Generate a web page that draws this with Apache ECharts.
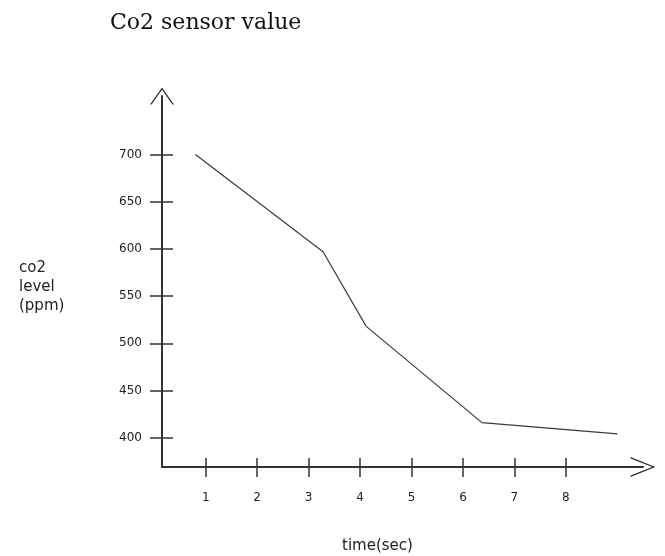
<!DOCTYPE html>
<html>
<head>
<meta charset="utf-8">
<script src="https://cdn.jsdelivr.net/npm/echarts@6/dist/echarts.min.js"></script>
<style>html,body{margin:0;padding:0;background:#fff}#c{width:665px;height:556px}</style>
</head>
<body>
<div id="c"></div>
<script>
// data
var timeSec = [0.8, 3.28, 4.12, 6.37, 9.0];
var co2Ppm = [700, 597, 518, 416, 404];
var xTickLabels = [1, 2, 3, 4, 5, 6, 7, 8];
var yTickLabels = [400, 450, 500, 550, 600, 650, 700];

// open chevrons (pointing up; rotated by the axis)
var chevronY = 'path://M0,17 L12,0 L24,17 L22.4,17 L12,2.2 L1.6,17 Z';
var chevronX = 'path://M0,25 L10,0 L20,25 L18.6,25 L10,3.4 L1.4,25 Z';
var ink = '#333';
var lblStyle = { color: '#222', fontFamily: 'DejaVu Sans', fontSize: 12 };

var chart = echarts.init(document.getElementById('c'), null, { renderer: 'canvas' });
var pts = timeSec.map(function (t, i) { return [t, co2Ppm[i]]; });

chart.setOption({
  animation: false,
  backgroundColor: '#fff',
  title: [
    { text: 'Co2 sensor value', left: 105, top: 7,
      textStyle: { fontFamily: 'DejaVu Serif', fontWeight: 'normal', fontSize: 22, color: '#111' } },
    { text: 'co2\nlevel\n(ppm)', left: 14, top: 254,
      textStyle: { fontFamily: 'DejaVu Sans', fontWeight: 'normal', fontSize: 15, lineHeight: 19, color: '#222' } },
    { text: 'time(sec)', left: 337, top: 534,
      textStyle: { fontFamily: 'DejaVu Sans', fontWeight: 'normal', fontSize: 15, color: '#222' } }
  ],
  grid: { left: 162, top: 96, width: 481, height: 371, containLabel: false },
  xAxis: [
    { type: 'value', min: 0.15, max: 9.5, position: 'bottom',
      axisLine: { show: true, onZero: false, lineStyle: { color: ink, width: 2 },
        symbol: ['none', chevronX], symbolSize: [20, 25], symbolOffset: [0, 0] },
      axisTick: { show: true, inside: false, length: 10, customValues: xTickLabels, lineStyle: { color: ink, width: 1.5 } },
      axisLabel: Object.assign({ show: true, margin: 25, customValues: xTickLabels }, lblStyle),
      splitLine: { show: false } },
    { type: 'value', min: 0.15, max: 9.5, position: 'bottom', gridIndex: 0,
      axisLine: { show: false, onZero: false },
      axisTick: { show: true, inside: true, length: 9, customValues: xTickLabels, lineStyle: { color: ink, width: 1.5 } },
      axisLabel: { show: false },
      splitLine: { show: false } }
  ],
  yAxis: [
    { type: 'value', min: 369, max: 762, position: 'left',
      axisLine: { show: true, onZero: false, lineStyle: { color: ink, width: 2 },
        symbol: ['none', chevronY], symbolSize: [24, 17], symbolOffset: [0, 0] },
      axisTick: { show: true, inside: false, length: 12, customValues: yTickLabels, lineStyle: { color: ink, width: 1.5 } },
      axisLabel: Object.assign({ show: true, margin: 20, customValues: yTickLabels }, lblStyle),
      splitLine: { show: false } },
    { type: 'value', min: 369, max: 762, position: 'left',
      axisLine: { show: false, onZero: false },
      axisTick: { show: true, inside: true, length: 11, customValues: yTickLabels, lineStyle: { color: ink, width: 1.5 } },
      axisLabel: { show: false },
      splitLine: { show: false } }
  ],
  series: [
    { type: 'line', data: pts, xAxisIndex: 0, yAxisIndex: 0,
      showSymbol: false, symbol: 'none',
      lineStyle: { color: '#3a3a3a', width: 1.2 } }
  ]
});
</script>
</body>
</html>
